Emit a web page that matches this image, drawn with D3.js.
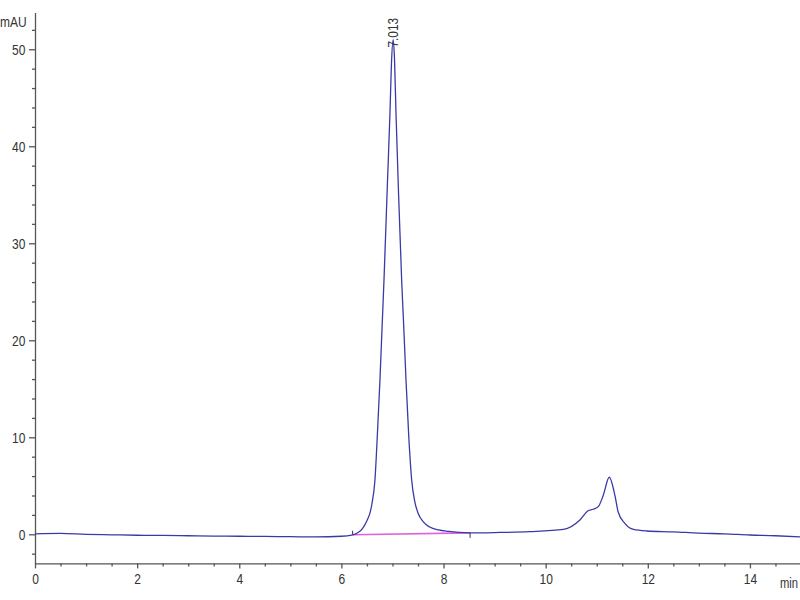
<!DOCTYPE html>
<html>
<head>
<meta charset="utf-8">
<script src="https://cdn.jsdelivr.net/npm/d3@7"></script>
<style>
  body { margin: 0; background: #fff; }
  text { font-family: 'Liberation Sans Narrow', 'Liberation Sans', Arial, sans-serif; }
</style>
</head>
<body>
<script>
// trace (time in min, signal in mAU)
const traceTime = [0, 0.5, 1, 1.5, 2, 2.5, 3, 3.5, 4, 4.5, 5, 5.5, 6, 6.2,
  6.3, 6.4, 6.45, 6.5, 6.56, 6.6, 6.657, 6.7, 6.755, 6.8, 6.834, 6.9, 6.951, 6.98, 7.013,
  7.04, 7.069, 7.12, 7.18, 7.22, 7.265, 7.32, 7.376, 7.44, 7.5, 7.6, 7.73, 7.9, 8.1, 8.3, 8.5,
  9, 9.69, 10.35, 10.67, 10.83, 10.93, 11.03, 11.13, 11.245, 11.36, 11.42, 11.55, 11.72, 11.98,
  12.5, 13, 13.5, 14, 14.5, 15]
const traceValue = [0.05, 0.1, 0.0, -0.05, -0.1, -0.12, -0.15, -0.18, -0.2, -0.22, -0.25, -0.27, -0.2, -0.08,
  0.1, 0.5, 0.9, 1.4, 2.2, 3.2, 5.6, 9.8, 15.9, 21.8, 26.2, 36, 43.4, 48.5, 51.0,
  49, 43.4, 35, 26.2, 21.5, 15.9, 10, 5.6, 3.3, 2.2, 1.3, 0.75, 0.45, 0.3, 0.2, 0.15,
  0.18, 0.27, 0.5, 1.47, 2.43, 2.58, 2.85, 4.05, 5.88, 3.9, 2.3, 1.13, 0.5, 0.34,
  0.25, 0.12, 0.05, -0.07, -0.15, -0.28]

// integration baseline of the main peak
const baseStart = [6.22, -0.05]
const baseEnd = [8.52, 0.15]
const peakLabel = {time: 7.013, value: 51.0, text: '7.013'}

const xMajor = [0, 2, 4, 6, 8, 10, 12, 14]
const yMajor = [0, 10, 20, 30, 40, 50]

const width = 800, height = 600
const narrow = 'scale(0.8,1)' // condensed look of the original labels

const svg = d3.select('body').append('svg')
    .attr('width', width)
    .attr('height', height)

const xScale = d3.scaleLinear()
    .domain([0, 15])
    .range([35, 801])

const yScale = d3.scaleLinear()
    .domain([-3, 53.8])
    .range([563.4, 12.4])

const axisColor = '#555'

// minor ticks first, then the major ones with labels
const xMinor = d3.range(0, 15.01, 0.5).filter(d => d % 2 !== 0)
svg.append('g')
    .attr('transform', 'translate(0,' + yScale(-3) + ')')
    .call(d3.axisBottom(xScale).tickValues(xMinor).tickSize(3).tickFormat('').tickSizeOuter(0))
    .call(g => g.select('.domain').remove())

const xAxis = svg.append('g')
    .attr('transform', 'translate(0,' + yScale(-3) + ')')
    .call(d3.axisBottom(xScale).tickValues(xMajor).tickSize(5).tickSizeOuter(0).tickPadding(5))
xAxis.selectAll('text').style('font-size', '15px').attr('fill', '#333').attr('transform', narrow)

const yMinor = d3.range(-2, 53, 2).filter(d => d % 10 !== 0)
svg.append('g')
    .attr('transform', 'translate(' + xScale(0) + ',0)')
    .call(d3.axisLeft(yScale).tickValues(yMinor).tickSize(3).tickFormat('').tickSizeOuter(0))
    .call(g => g.select('.domain').remove())

const yAxis = svg.append('g')
    .attr('transform', 'translate(' + xScale(0) + ',0)')
    .call(d3.axisLeft(yScale).tickValues(yMajor).tickSize(6).tickSizeOuter(0).tickPadding(6))
yAxis.selectAll('text').style('font-size', '15px').attr('fill', '#333').attr('transform', narrow)

svg.selectAll('.domain, .tick line').attr('stroke', axisColor).attr('stroke-width', 1.3)

svg.append('text')
    .attr('transform', 'translate(0,27)' + narrow)
    .style('font-size', '15px')
    .attr('fill', '#333')
    .text('mAU')

svg.append('text')
    .attr('transform', 'translate(780,588)' + narrow)
    .style('font-size', '14px')
    .attr('fill', '#333')
    .text('min')

// baseline under the main peak
svg.append('line')
    .attr('x1', xScale(baseStart[0])).attr('y1', yScale(baseStart[1]))
    .attr('x2', xScale(baseEnd[0])).attr('y2', yScale(baseEnd[1]))
    .attr('stroke', '#e060e0')
    .attr('stroke-width', 1.6)

svg.append('line')
    .attr('x1', xScale(baseStart[0])).attr('x2', xScale(baseStart[0]))
    .attr('y1', yScale(baseStart[1]) - 4).attr('y2', yScale(baseStart[1]))
    .attr('stroke', '#333')
svg.append('line')
    .attr('x1', xScale(baseEnd[0])).attr('x2', xScale(baseEnd[0]))
    .attr('y1', yScale(baseEnd[1])).attr('y2', yScale(baseEnd[1]) + 5)
    .attr('stroke', '#333')

const line = d3.line()
    .x((d, i) => xScale(traceTime[i]))
    .y(d => yScale(d))
    .curve(d3.curveMonotoneX)

svg.append('path')
    .datum(traceValue)
    .attr('d', line)
    .attr('fill', 'none')
    .attr('stroke', '#3a3aa6')
    .attr('stroke-width', 1.3)

// retention time label above the peak
svg.append('text')
    .attr('transform', 'translate(' + (xScale(peakLabel.time) + 5) + ',' + (yScale(peakLabel.value) + 8) + ')rotate(-90)scale(0.85,1)')
    .style('font-size', '14px')
    .attr('fill', '#333')
    .text(peakLabel.text)
</script>
</body>
</html>
